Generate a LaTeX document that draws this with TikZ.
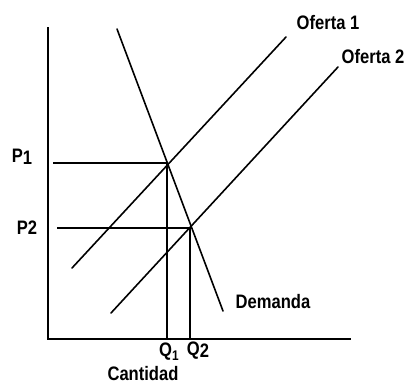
\documentclass[tikz,border=0pt]{standalone}
\usepackage{fontspec}
\setmainfont{Liberation Sans}
\newfontfamily\condfont[FakeStretch=0.85]{Liberation Sans}
\begin{document}
\begin{tikzpicture}[x=1pt,y=-1pt,
  curve/.style={line width=1.6pt,line cap=round},
  axis/.style={line width=2.3pt},
  guide/.style={line width=1.6pt},
  lbl/.style={font=\condfont\bfseries\fontsize{19.5}{19.5}\selectfont,inner sep=0pt}]
\useasboundingbox[fill=white] (0,0) rectangle (411,384);
% axes
\coordinate (ytop) at (48,27);
\coordinate (orig) at (48,339);
\coordinate (xend) at (351,339);
\draw[axis] (ytop) -- (orig) -- (xend);
% curves
\coordinate (d1) at (117,29);
\coordinate (d2) at (223,311);
\coordinate (s1a) at (72,268);
\coordinate (s1b) at (286,37);
\coordinate (s2a) at (111,313);
\coordinate (s2b) at (338,67);
\draw[curve] (d1) -- (d2);
\draw[curve] (s1a) -- (s1b);
\draw[curve] (s2a) -- (s2b);
% equilibria
\coordinate (e1) at (167,163);
\coordinate (e2) at (190,228);
\coordinate (p1s) at (53,163);
\coordinate (p2s) at (57,228);
\coordinate (q1b) at (167,339);
\coordinate (q2b) at (190,339);
\draw[guide] (p1s) -- (e1) -- (q1b);
\draw[guide] (p2s) -- (e2) -- (q2b);
% labels
\node[lbl] (lo1) at (328,23) {Oferta 1};
\node[lbl] (lo2) at (373,57) {Oferta 2};
\node[lbl] (ld) at (273,302) {Demanda};
\node[lbl] (lp1) at (22,157) {P\raisebox{-2pt}{1}};
\node[lbl] (lp2) at (27,228) {P2};
\node[lbl] (lq1) at (169,352) {Q\raisebox{-4pt}{\fontsize{14}{14}\selectfont 1}};
\node[lbl] (lq2) at (198,351) {Q\raisebox{-2pt}{2}};
\node[lbl] (lc) at (143,374) {Cantidad};
\end{tikzpicture}
\end{document}
